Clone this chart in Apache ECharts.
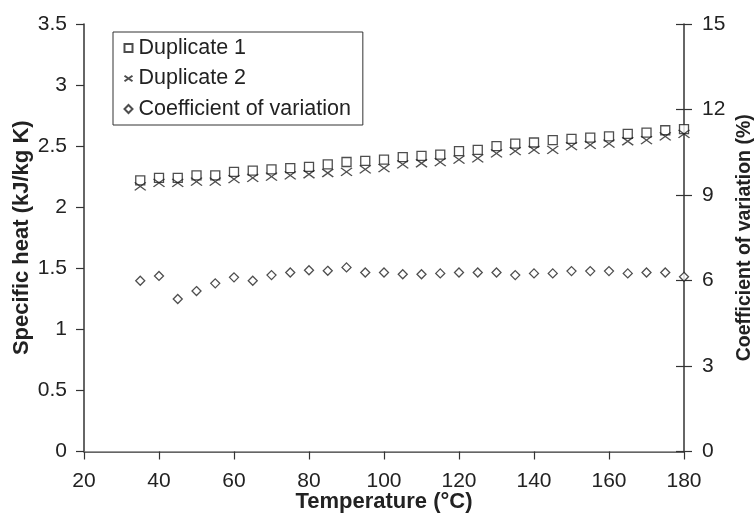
<!DOCTYPE html>
<html><head><meta charset="utf-8">
<script src="https://cdn.jsdelivr.net/npm/echarts@6/dist/echarts.min.js"></script>
<style>html,body{margin:0;padding:0;background:#fff}#c{width:755px;height:514px}</style>
</head><body><div id="c"></div>
<script>
const temperature = [35,40,45,50,55,60,65,70,75,80,85,90,95,100,105,110,115,120,125,130,135,140,145,150,155,160,165,170,175,180];
const duplicate1 = [2.22,2.24,2.24,2.26,2.26,2.29,2.30,2.31,2.32,2.33,2.35,2.37,2.38,2.39,2.41,2.42,2.43,2.46,2.47,2.50,2.52,2.53,2.55,2.56,2.57,2.58,2.60,2.61,2.63,2.64];
const duplicate2 = [2.17,2.20,2.20,2.21,2.21,2.23,2.24,2.25,2.26,2.27,2.28,2.29,2.31,2.32,2.35,2.36,2.37,2.39,2.40,2.44,2.46,2.47,2.47,2.50,2.51,2.52,2.54,2.55,2.58,2.60];
const coefVariation = [5.99,6.16,5.35,5.63,5.90,6.11,5.99,6.19,6.28,6.36,6.34,6.46,6.28,6.28,6.22,6.22,6.25,6.28,6.28,6.28,6.19,6.25,6.25,6.33,6.33,6.33,6.25,6.28,6.28,6.13];
const seriesNames = ['Duplicate 1','Duplicate 2','Coefficient of variation'];

const FONT = '"Liberation Sans", Arial, sans-serif';
const INK = '#222';
const chart = echarts.init(document.getElementById('c'));
const pairs = arr => temperature.map((t,i)=>[t,arr[i]]);
const hollow = {color:'#fff', borderColor:INK, borderWidth:1.3};
chart.setOption({
  animation:false,
  grid:{left:84,right:71,top:24,bottom:62.5,containLabel:false,outerBoundsMode:'none'},
  legend:{
    orient:'vertical', left:113, top:32, padding:[5,12,5,9], itemGap:8.5,
    borderColor:'#333', borderWidth:1, itemWidth:8, itemHeight:8,
    textStyle:{fontFamily:FONT,fontSize:21.5,color:INK,padding:[0,0,0,1]},
    data:seriesNames
  },
  xAxis:[{
    type:'value', min:20, max:180, interval:20,
    name:'Temperature (°C)', nameLocation:'middle', nameGap:39, nameMoveOverlap:false,
    nameTextStyle:{fontFamily:FONT,fontSize:22,fontWeight:'bold',color:INK},
    axisLine:{lineStyle:{color:'#333',width:1.5}},
    axisTick:{length:8,lineStyle:{color:'#333',width:1.2}},
    axisLabel:{fontFamily:FONT,fontSize:21,color:INK,margin:19},
    splitLine:{show:false}
  },{
    type:'value', min:20, max:180, position:'top',
    axisLine:{show:true,lineStyle:{color:'#999',width:1}},
    axisTick:{show:false}, axisLabel:{show:false}, splitLine:{show:false}
  }],
  yAxis:[{
    type:'value', min:0, max:3.5, interval:0.5, position:'left',
    name:'Specific heat (kJ/kg K)', nameLocation:'middle', nameGap:51, nameRotate:90, nameMoveOverlap:false,
    nameTextStyle:{fontFamily:FONT,fontSize:22,fontWeight:'bold',color:INK},
    axisLine:{show:true,lineStyle:{color:'#333',width:1.5}},
    axisTick:{show:true,length:8,lineStyle:{color:'#333',width:1.2}},
    axisLabel:{fontFamily:FONT,fontSize:21,color:INK,margin:17},
    splitLine:{show:false}
  },{
    type:'value', min:0, max:15, interval:3, position:'right',
    name:'Coefficient of variation (%)', nameLocation:'middle', nameGap:51, nameRotate:90, nameMoveOverlap:false,
    nameTextStyle:{fontFamily:FONT,fontSize:19.5,fontWeight:'bold',color:INK},
    axisLine:{show:true,lineStyle:{color:'#333',width:1.5}},
    axisTick:{show:true,length:8,lineStyle:{color:'#333',width:1.2}},
    axisLabel:{fontFamily:FONT,fontSize:21,color:INK,margin:18},
    splitLine:{show:false}
  },{
    type:'value', min:0, max:15, interval:3, position:'right',
    axisLine:{show:false},
    axisTick:{show:true,inside:true,length:8,lineStyle:{color:'#333',width:1.2}},
    axisLabel:{show:false}, splitLine:{show:false}
  }],
  series:[{
    name:seriesNames[0], type:'scatter', xAxisIndex:0, yAxisIndex:0,
    symbol:'rect', symbolSize:9, itemStyle:hollow, data:pairs(duplicate1)
  },{
    name:seriesNames[1], type:'scatter', xAxisIndex:0, yAxisIndex:0,
    symbol:'path://M0,0L10,7M10,0L0,7', symbolSize:[11,8],
    itemStyle:{color:'none',borderColor:INK,borderWidth:1.3}, data:pairs(duplicate2)
  },{
    name:seriesNames[2], type:'scatter', xAxisIndex:0, yAxisIndex:1,
    symbol:'diamond', symbolSize:9, itemStyle:hollow, data:pairs(coefVariation)
  }]
});
</script></body></html>
